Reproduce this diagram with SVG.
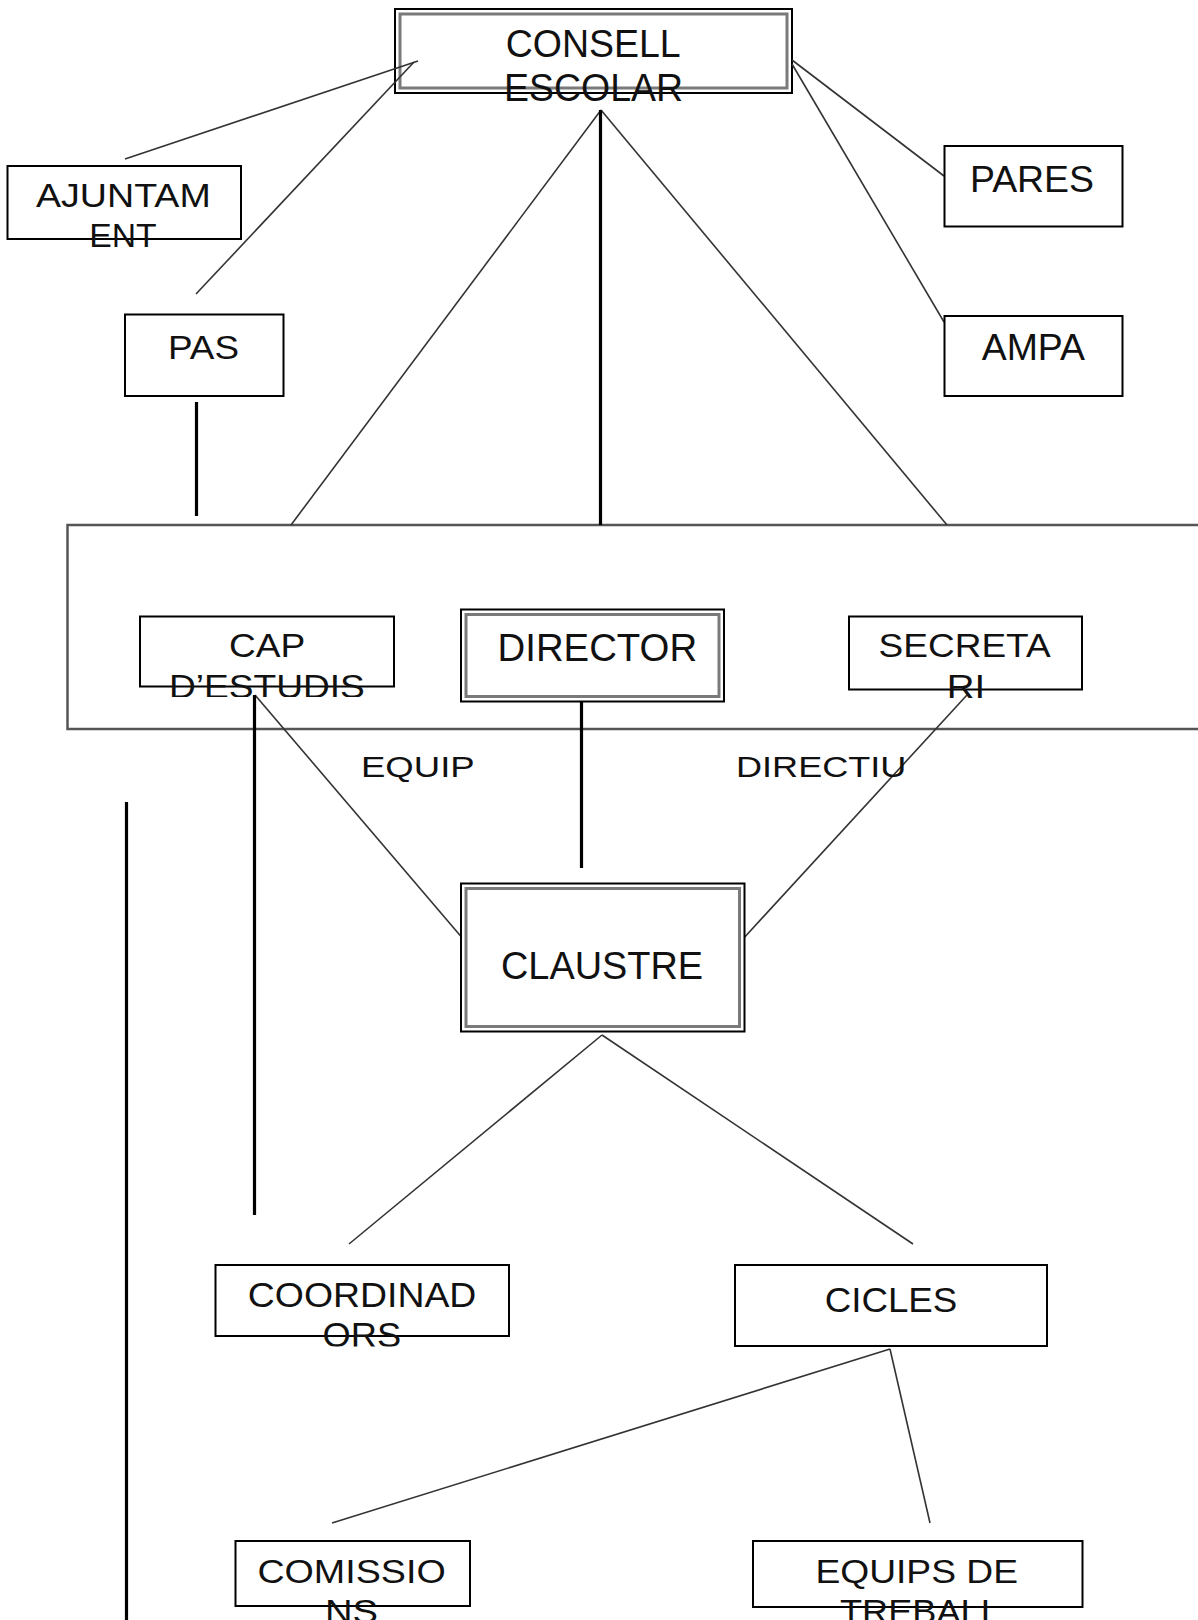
<svg xmlns="http://www.w3.org/2000/svg" width="1198" height="1620" viewBox="0 0 1198 1620">
<style>
.box{fill:#fff;stroke:#000;stroke-width:2}
.outer{fill:#fff;stroke:#000;stroke-width:2}
.inner{fill:none;stroke:#7a7a7a;stroke-width:3}
.frame{fill:none;stroke:#555;stroke-width:2.5}
.t{font-family:"Liberation Sans",Arial,sans-serif;fill:#111}
.thin{stroke:#333;stroke-width:1.6;fill:none}
.thick{stroke:#000;stroke-width:3.2;fill:none}
</style>
<defs>
<clipPath id="cAj"><rect x="0" y="166" width="260" height="83.5"/></clipPath>
<clipPath id="cCap"><rect x="130" y="616" width="280" height="81"/></clipPath>
<clipPath id="cSec"><rect x="840" y="616" width="260" height="84"/></clipPath>
<clipPath id="cCoo"><rect x="200" y="1265" width="320" height="81.5"/></clipPath>
</defs>
<rect width="1198" height="1620" fill="#fff"/>

<g id="equip-directiu-frame">
<rect class="frame" x="67.5" y="525" width="1200" height="204"/>
</g>

<g id="consell-escolar">
<rect class="outer" x="395" y="9" width="397" height="84"/>
<rect class="inner" x="400" y="14" width="387" height="74"/>
<text class="t" x="505.7" y="57" font-size="38" textLength="175" lengthAdjust="spacingAndGlyphs">CONSELL</text>
<text class="t" x="504" y="101" font-size="38" textLength="179" lengthAdjust="spacingAndGlyphs">ESCOLAR</text>
</g>

<g id="connectors">
<line class="thin" x1="125" y1="159" x2="418" y2="61"/>
<line class="thin" x1="196" y1="294" x2="414" y2="62"/>
<line class="thin" x1="792" y1="60" x2="944" y2="176"/>
<line class="thin" x1="792" y1="64" x2="944" y2="322"/>
<line class="thin" x1="601" y1="110" x2="291" y2="525"/>
<line class="thin" x1="601" y1="110" x2="947" y2="525"/>
<line class="thick" x1="600.5" y1="110" x2="600.5" y2="525"/>
<line class="thick" x1="196.5" y1="402" x2="196.5" y2="516"/>
<line class="thin" x1="255" y1="695" x2="464" y2="940"/>
<line class="thin" x1="967" y1="695" x2="742" y2="940"/>
<line class="thick" x1="581.5" y1="698" x2="581.5" y2="868"/>
<line class="thick" x1="254.5" y1="695" x2="254.5" y2="1215"/>
<line class="thick" x1="126.5" y1="802" x2="126.5" y2="1620"/>
<line class="thin" x1="602" y1="1035" x2="349" y2="1244"/>
<line class="thin" x1="602" y1="1035" x2="913" y2="1244"/>
<line class="thin" x1="890" y1="1349" x2="332" y2="1523"/>
<line class="thin" x1="890" y1="1349" x2="930" y2="1523"/>
</g>

<g id="ajuntament">
<rect class="box" x="7.5" y="166" width="233.5" height="73"/>
<g clip-path="url(#cAj)">
<text class="t" x="36" y="206.7" font-size="34" textLength="174.7" lengthAdjust="spacingAndGlyphs">AJUNTAM</text>
<text class="t" x="89.3" y="247" font-size="34" textLength="67.4" lengthAdjust="spacingAndGlyphs">ENT</text>
</g>
</g>

<g id="pas">
<rect class="box" x="125" y="314.5" width="158.5" height="81.5"/>
<text class="t" x="168" y="359.3" font-size="34" textLength="71" lengthAdjust="spacingAndGlyphs">PAS</text>
</g>

<g id="pares">
<rect class="box" x="944.5" y="146" width="178" height="80.5"/>
<text class="t" x="970" y="192.3" font-size="37" textLength="124" lengthAdjust="spacingAndGlyphs">PARES</text>
</g>

<g id="ampa">
<rect class="box" x="944.5" y="316" width="178" height="80"/>
<text class="t" x="981.7" y="360" font-size="36" textLength="103.3" lengthAdjust="spacingAndGlyphs">AMPA</text>
</g>

<g id="cap-estudis">
<rect class="box" x="140" y="616.5" width="254" height="70"/>
<g clip-path="url(#cCap)">
<text class="t" x="229" y="656.7" font-size="33" textLength="76.3" lengthAdjust="spacingAndGlyphs">CAP</text>
<text class="t" x="168.9" y="698" font-size="33" textLength="196" lengthAdjust="spacingAndGlyphs">D’ESTUDIS</text>
</g>
</g>

<g id="director">
<rect class="outer" x="461" y="609.5" width="263" height="92"/>
<rect class="inner" x="466" y="614.5" width="253" height="82"/>
<text class="t" x="497.6" y="660.7" font-size="38.5" textLength="199.5" lengthAdjust="spacingAndGlyphs">DIRECTOR</text>
</g>

<g id="secretari">
<rect class="box" x="849" y="616.5" width="233" height="73"/>
<g clip-path="url(#cSec)">
<text class="t" x="878.6" y="656.7" font-size="33.5" textLength="172" lengthAdjust="spacingAndGlyphs">SECRETA</text>
<text class="t" x="946.8" y="698" font-size="33.5" textLength="38.4" lengthAdjust="spacingAndGlyphs">RI</text>
</g>
</g>

<g id="labels">
<text class="t" x="361" y="776.7" font-size="29" textLength="113.7" lengthAdjust="spacingAndGlyphs">EQUIP</text>
<text class="t" x="736" y="776.7" font-size="29" textLength="170.4" lengthAdjust="spacingAndGlyphs">DIRECTIU</text>
</g>

<g id="claustre">
<rect class="outer" x="461" y="883.5" width="283.5" height="148"/>
<rect class="inner" x="466" y="888.5" width="273.5" height="138"/>
<text class="t" x="501" y="979" font-size="38.5" textLength="202" lengthAdjust="spacingAndGlyphs">CLAUSTRE</text>
</g>

<g id="coordinadors">
<rect class="box" x="215.5" y="1265" width="293.5" height="71"/>
<g clip-path="url(#cCoo)">
<text class="t" x="247.8" y="1306.7" font-size="35" textLength="228.6" lengthAdjust="spacingAndGlyphs">COORDINAD</text>
<text class="t" x="322.5" y="1346.7" font-size="35" textLength="78.6" lengthAdjust="spacingAndGlyphs">ORS</text>
</g>
</g>

<g id="cicles">
<rect class="box" x="735" y="1265" width="312" height="81"/>
<text class="t" x="824.7" y="1311.7" font-size="35" textLength="132.6" lengthAdjust="spacingAndGlyphs">CICLES</text>
</g>

<g id="comissions">
<rect class="box" x="235.5" y="1541" width="234.5" height="65"/>
<text class="t" x="257.4" y="1583" font-size="33.5" textLength="188.3" lengthAdjust="spacingAndGlyphs">COMISSIO</text>
<text class="t" x="325" y="1623" font-size="33.5" textLength="53" lengthAdjust="spacingAndGlyphs">NS</text>
</g>

<g id="equips-treball">
<rect class="box" x="753" y="1541" width="329.5" height="66"/>
<text class="t" x="815.4" y="1583" font-size="33.5" textLength="202.6" lengthAdjust="spacingAndGlyphs">EQUIPS DE</text>
<text class="t" x="840" y="1623" font-size="33.5" textLength="160.8" lengthAdjust="spacingAndGlyphs">TREBALL</text>
</g>
</svg>
